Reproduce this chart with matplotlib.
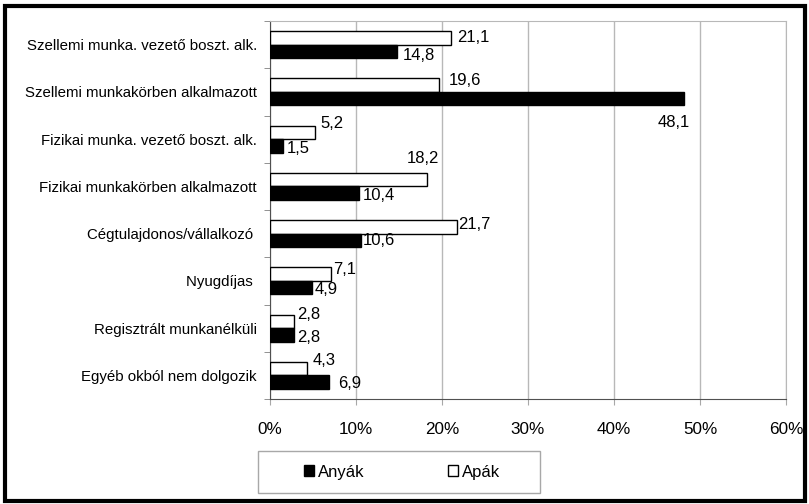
import matplotlib
matplotlib.use("Agg")
import matplotlib.pyplot as plt
from matplotlib.patches import Rectangle
import numpy as np

plt.rcParams['font.family'] = ['Liberation Sans', 'DejaVu Sans']

categories = [
    "Szellemi munka. vezető boszt. alk.",
    "Szellemi munkakörben alkalmazott",
    "Fizikai munka. vezető boszt. alk.",
    "Fizikai munkakörben alkalmazott",
    "Cégtulajdonos/vállalkozó ",
    "Nyugdíjas ",
    "Regisztrált munkanélküli",
    "Egyéb okból nem dolgozik",
]
apak = [21.1, 19.6, 5.2, 18.2, 21.7, 7.1, 2.8, 4.3]
anyak = [14.8, 48.1, 1.5, 10.4, 10.6, 4.9, 2.8, 6.9]
xticks = [0, 10, 20, 30, 40, 50, 60]
xticklabels = ["0%", "10%", "20%", "30%", "40%", "50%", "60%"]

# label offsets in pixels from (bar end, bar centre): (dx, dy, ha)
apak_off = [(5.5, 0.5, 'left'), (10, 4.5, 'left'), (6, 9, 'left'), (-4, 21.5, 'center'),
            (1.5, 2, 'left'), (2, 5, 'left'), (3, 7, 'left'), (6, 8.5, 'left')]
anyak_off = [(5.5, -4.5, 'left'), (6, -23.5, 'right'), (4, -3, 'left'), (3, -2, 'left'),
             (2, -0.5, 'left'), (2, -2, 'left'), (3, -2.5, 'left'), (9, -1.5, 'left')]

W, H = 809, 504
fig = plt.figure(figsize=(W/100, H/100), dpi=100)
ax = fig.add_axes([270/W, 1-399/H, (786-270)/W, (399-21)/H])

y = np.arange(len(categories))
h = 0.285
off = 0.1425
ax.barh(y - off, apak, height=h, color='white', edgecolor='black', linewidth=1.0, label='Apák', zorder=3)
ax.barh(y + off, anyak, height=h, color='black', edgecolor='black', linewidth=1.0, label='Anyák', zorder=3)

ax.set_ylim(len(categories) - 0.5, -0.5)
ax.set_xlim(0, 60)
ax.set_xticks(xticks)
ax.set_xticklabels(xticklabels, fontsize=12.3)
ax.set_yticks(y)
ax.set_yticklabels(categories, fontsize=10.8)
ax.tick_params(axis='y', length=0, pad=9.4)
ax.set_yticks(np.arange(-0.5, len(categories) + 0.5, 1), minor=True)
ax.tick_params(axis='y', which='minor', length=4, color='#808080', left=True)
ax.tick_params(axis='x', length=4.5, color='#a8a8a8', pad=12.3)
ax.grid(axis='x', color='#b8b8b8', linewidth=1, zorder=0)

for s in ['top', 'right']:
    ax.spines[s].set_color('#b8b8b8')
ax.spines['left'].set_color('#505050')
ax.spines['bottom'].set_color('#505050')

for i in range(len(categories)):
    dx, dy, ha = apak_off[i]
    ax.annotate(f"{apak[i]:.1f}".replace('.', ','), (apak[i], y[i] - off), xytext=(dx, dy),
                textcoords='offset pixels', ha=ha, va='center', fontsize=12, zorder=4)
    dx, dy, ha = anyak_off[i]
    ax.annotate(f"{anyak[i]:.1f}".replace('.', ','), (anyak[i], y[i] + off), xytext=(dx, dy),
                textcoords='offset pixels', ha=ha, va='center', fontsize=12, zorder=4)

handles, labels = ax.get_legend_handles_labels()
leg = fig.legend([handles[1], handles[0]], [labels[1], labels[0]], loc='center',
                 bbox_to_anchor=(402/W, 1-472/H), ncol=2, frameon=False,
                 fontsize=12, handlelength=0.6, handleheight=0.6,
                 handletextpad=0.25, columnspacing=5.0)

# legend box
fig.patches.append(Rectangle((258/W, 1-493/H), 282/W, 42/H, transform=fig.transFigure,
                             fill=False, edgecolor='#a8a8a8', linewidth=1.0))
# outer border
fig.patches.append(Rectangle((5/W, 1-500.5/H), 800/W, 495/H, transform=fig.transFigure,
                             fill=False, edgecolor='black', linewidth=3))

fig.savefig("out.png", dpi=100)
